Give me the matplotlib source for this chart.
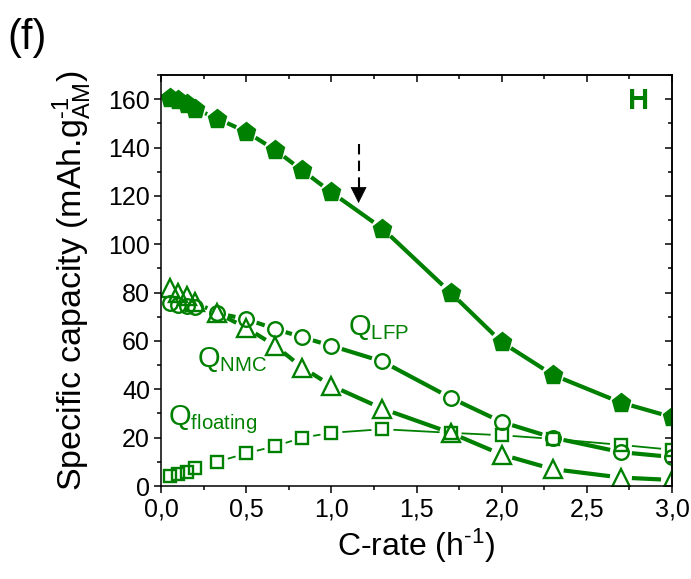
import numpy as np
import matplotlib
matplotlib.use("Agg")
import matplotlib.pyplot as plt
from matplotlib.ticker import MultipleLocator, FixedLocator, FixedFormatter

plt.rcParams["font.family"] = ["Liberation Sans", "DejaVu Sans"]
plt.rcParams["mathtext.fontset"] = "custom"
plt.rcParams["mathtext.rm"] = "Liberation Sans"
plt.rcParams["mathtext.it"] = "Liberation Sans"
plt.rcParams["mathtext.default"] = "regular"

GREEN = "#008000"

# C-rates and capacities (mAh/g of active material)
c_rate = [0.05, 0.1, 0.15, 0.2, 0.33, 0.5, 0.67, 0.83, 1.0, 1.3, 1.7, 2.0, 2.3, 2.7, 3.0]
q_hybrid = [160.5, 159.5, 158, 156, 152, 146.5, 139, 130.5, 121.5, 106.5, 80, 59.5, 46, 34.5, 28.5]
q_lfp = [75.5, 75, 74.5, 74, 71.5, 69, 65, 61.5, 58, 51.5, 36.5, 26.5, 20, 14, 12]
q_nmc = [82, 80, 78.5, 76, 71.5, 65.5, 58, 49, 41.5, 32, 22, 13, 7, 3.5, 2.5]
q_floating = [4, 5, 6, 7.5, 10, 13.5, 16.5, 20, 22, 23.5, 22, 21, 19.5, 17, 15]

x_ticks = [0.0, 0.5, 1.0, 1.5, 2.0, 2.5, 3.0]
x_ticklabels = ["0,0", "0,5", "1,0", "1,5", "2,0", "2,5", "3,0"]
y_ticks = [0, 20, 40, 60, 80, 100, 120, 140, 160]

arrow_x, arrow_top, arrow_tip = 1.16, 141.5, 117

fig = plt.figure(figsize=(6.91, 5.79), dpi=100)
ax = fig.add_axes([0.233, 0.1606, 0.7395, 0.7099])
ax.set_xlim(0, 3.0)
ax.set_ylim(0, 170)


def gapped(ax, x, y, gap_px, **kw):
    """Connect points with straight pieces that stop short of each marker."""
    pts = ax.transData.transform(np.column_stack([x, y]))
    inv = ax.transData.inverted()
    for p, q in zip(pts[:-1], pts[1:]):
        d = q - p
        L = np.hypot(*d)
        if L <= 2 * gap_px + 2:
            continue
        u = d / L
        a = inv.transform(p + u * gap_px)
        b = inv.transform(q - u * gap_px)
        ax.plot([a[0], b[0]], [a[1], b[1]], solid_capstyle="butt", **kw)


gapped(ax, c_rate, q_hybrid, 11, color=GREEN, lw=3.0)
gapped(ax, c_rate, q_lfp, 11, color=GREEN, lw=3.0)
gapped(ax, c_rate, q_nmc, 11, color=GREEN, lw=3.0)
gapped(ax, c_rate, q_floating, 11, color=GREEN, lw=1.3)

ax.plot(c_rate, q_hybrid, ls="none", marker="p", ms=14, color=GREEN, mec=GREEN)
ax.plot(c_rate, q_lfp, ls="none", marker="o", ms=10.5, mfc="none", mec=GREEN, mew=1.7)
ax.plot(c_rate, q_nmc, ls="none", marker="^", ms=13, mfc="none", mec=GREEN, mew=1.7)
ax.plot(c_rate, q_floating, ls="none", marker="s", ms=9, mfc="none", mec=GREEN, mew=1.7)

# dashed arrow marking the rate of interest
head = 123.2
ax.plot([arrow_x, arrow_x], [arrow_top, head], color="black", lw=1.5, dashes=(5, 3))
ax.annotate("", xy=(arrow_x, arrow_tip), xytext=(arrow_x, head + 0.5),
            arrowprops=dict(arrowstyle="-|>,head_length=1.08,head_width=0.54",
                            color="black", lw=0.5, shrinkA=0, shrinkB=0))

ax.text(1.10, 62.4, r"Q$_{LFP}$", fontsize=21, color=GREEN, ha="left", va="baseline")
ax.text(0.21, 49.2, r"Q$_{NMC}$", fontsize=21, color=GREEN, ha="left", va="baseline")
ax.text(0.04, 25.2, r"Q$_{floating}$", fontsize=21, color=GREEN, ha="left", va="baseline")
ax.text(0.935, 0.97, "H", transform=ax.transAxes, fontsize=21, fontweight="bold",
        color=GREEN, ha="center", va="top")

# bottom / left ticks point outward with labels
ax.xaxis.set_major_locator(FixedLocator(x_ticks))
ax.xaxis.set_major_formatter(FixedFormatter(x_ticklabels))
ax.xaxis.set_minor_locator(MultipleLocator(0.25))
ax.yaxis.set_major_locator(FixedLocator(y_ticks))
ax.yaxis.set_minor_locator(MultipleLocator(10))
ax.tick_params(which="major", direction="out", length=5, width=1.1, labelsize=18, pad=3)
ax.tick_params(which="minor", direction="out", length=3, width=1.1)
for s in ax.spines.values():
    s.set_linewidth(1.1)

# top / right ticks point inward, no labels
top = ax.secondary_xaxis("top")
top.xaxis.set_major_locator(FixedLocator(x_ticks))
top.xaxis.set_minor_locator(MultipleLocator(0.25))
top.tick_params(which="major", direction="in", length=5, width=1.1, labeltop=False)
top.tick_params(which="minor", direction="in", length=3, width=1.1)
right = ax.secondary_yaxis("right")
right.yaxis.set_major_locator(FixedLocator(y_ticks))
right.yaxis.set_minor_locator(MultipleLocator(10))
right.tick_params(which="major", direction="in", length=5, width=1.1, labelright=False)
right.tick_params(which="minor", direction="in", length=3, width=1.1)
for sec in (top, right):
    for s in sec.spines.values():
        s.set_linewidth(1.1)

ax.set_xlabel(r"C-rate (h$^{\text{-1}}$)", fontsize=23, labelpad=4)
ax.set_ylabel(r"Specific capacity (mAh.g$^{\text{-1}}_{AM}$)", fontsize=24.5, labelpad=10)

fig.text(0.010, 0.935, "(f)", fontsize=30, ha="left", va="center")

fig.savefig("out.png", dpi=100)
